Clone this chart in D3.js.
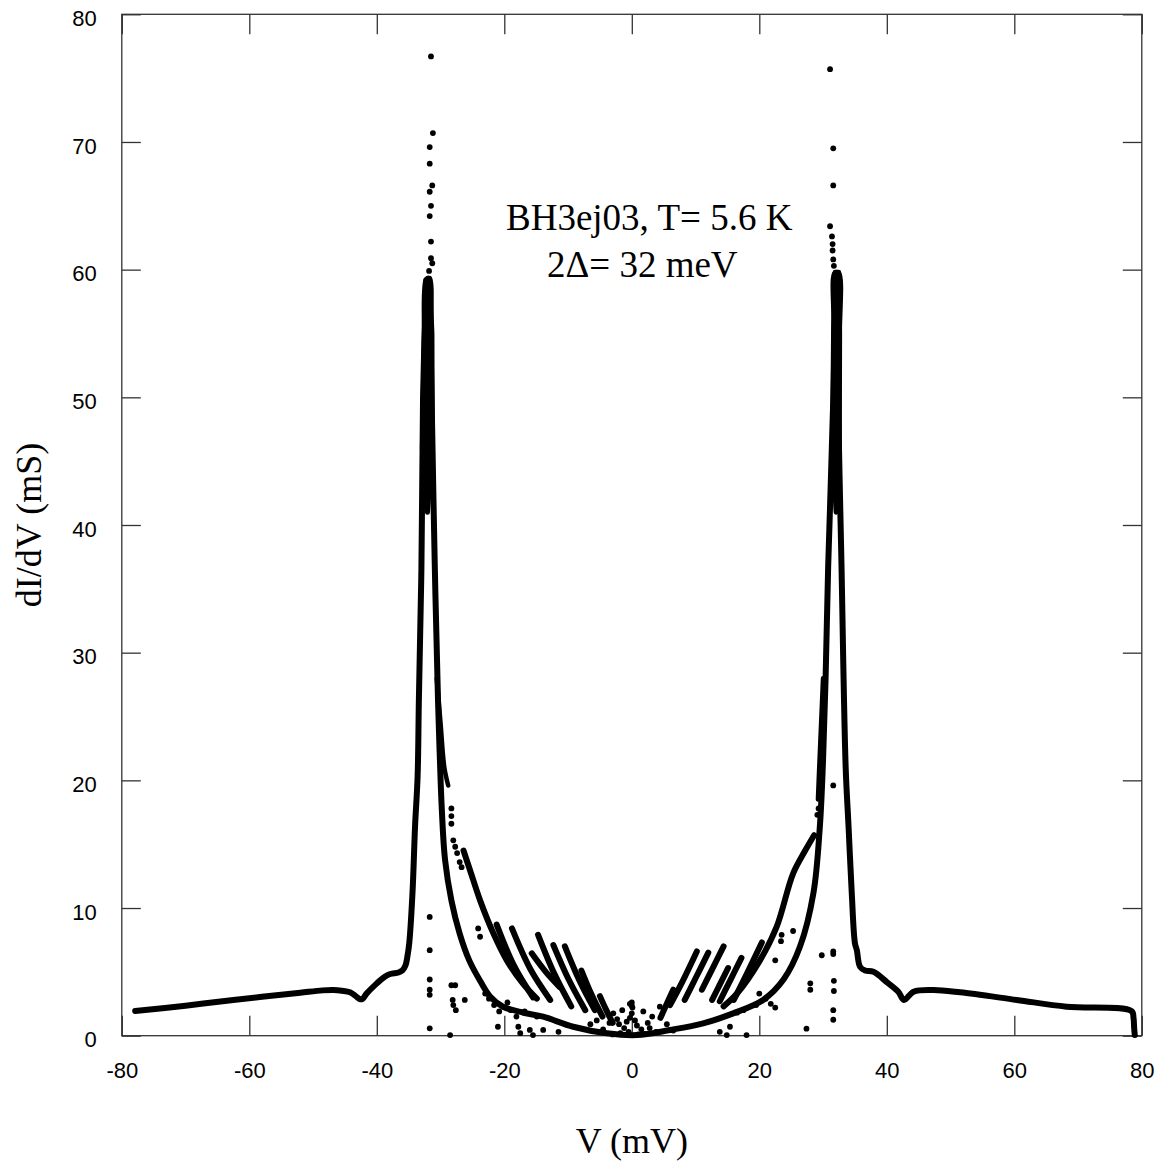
<!DOCTYPE html>
<html>
<head>
<meta charset="utf-8">
<script src="https://cdn.jsdelivr.net/npm/d3@7"></script>
<style>
  html, body { margin: 0; padding: 0; background: #fff; }
  svg { display: block; }
</style>
</head>
<body>
<svg id="chart" width="1169" height="1174"></svg>
<script>
// ---- tick values ----
const xTicks = [-80, -60, -40, -20, 0, 20, 40, 60, 80];
const yTicks = [0, 10, 20, 30, 40, 50, 60, 70, 80];

// ---- main sweep: [V (mV), dI/dV (mS)] ----
const sweepA = [
  [-77.9, 1.93], [-70, 2.35], [-62.5, 2.8], [-52.0, 3.37], [-48.5, 3.55], [-46.8, 3.58],
  [-45.5, 3.52], [-44.2, 3.4], [-43.3, 3.1], [-42.6, 2.85], [-42.2, 2.9], [-41.6, 3.3],
  [-40.0, 4.1], [-38.8, 4.6], [-37.9, 4.83], [-36.6, 4.95], [-36.0, 5.1], [-35.5, 5.5],
  [-35.2, 6.2], [-34.9, 7.3], [-34.4, 11.2], [-34.0, 16.4], [-33.6, 20.3], [-33.4, 26.3],
  [-33.0, 36.7], [-32.75, 49.8], [-32.5, 55], [-32.2, 59.2], [-31.8, 59.3], [-31.6, 55],
  [-31.4, 49.8], [-30.9, 36.7], [-30.4, 26.3], [-30.1, 21.6], [-29.8, 17.7], [-29.3, 13.8],
  [-28.3, 10.6], [-27.0, 8.0], [-25.5, 5.9], [-23.8, 4.3], [-22.2, 3.05], [-20.2, 2.27],
  [-17.0, 1.8], [-13.9, 1.49], [-9.2, 0.7], [-3.9, 0.19], [0.8, 0.05], [6.0, 0.45],
  [11.2, 0.97], [15.9, 1.75], [20.6, 2.8], [23.8, 4.4], [26.4, 7.0], [28.5, 11.2],
  [29.5, 16.4], [30.0, 21.6], [30.4, 28.0], [30.8, 36.7], [31.6, 49.8], [31.75, 56],
  [31.9, 59.7], [32.4, 59.7], [32.5, 55], [32.4, 49.8], [32.9, 36.7], [33.55, 21.0],
  [34.0, 16.4], [34.5, 11.2], [35.0, 7.25], [35.3, 6.7], [35.8, 5.4], [36.6, 5.1],
  [37.9, 5.0], [40.0, 4.2], [41.8, 3.45], [42.7, 2.8], [44.2, 3.45], [47.3, 3.58],
  [51.5, 3.4], [60.4, 2.8], [68.2, 2.27], [78.4, 1.93], [78.7, 1.4], [78.8, 0.6], [78.9, 0.05]
];

// ---- dense tops of the two coherence peaks (outline points) ----
const peakTopLeft = [[-32.85, 46], [-32.55, 55], [-32.3, 59.2], [-31.7, 59.3], [-31.35, 55], [-31.3, 46], [-32.05, 41]];
const peakTopRight = [[31.5, 46], [31.7, 55], [31.9, 59.8], [32.45, 59.8], [32.6, 55], [32.55, 46], [32.05, 41]];

// ---- second sweep (inner U) ----
const sweepBLeft = [
  [-26.4, 14.5], [-25.4, 13.0], [-23.8, 10.6], [-21.7, 8.0], [-19.6, 5.9], [-17.1, 4.1], [-14.9, 2.9]
];
const sweepBLeftTop = [[-30.6, 28.0], [-30.0, 24.5], [-29.4, 21.0], [-28.8, 19.6]];
const sweepBRight = [
  [28.6, 15.7], [27.2, 14.5], [25.3, 12.7], [22.7, 8.5], [20.1, 5.9], [16.5, 3.3], [14.4, 2.3]
];
const sweepBRightTop = [[30.0, 28.0], [29.7, 24.5], [29.4, 21.0], [29.2, 18.5]];

// ---- short fringe streaks ----
const fringesLeft = [
  [[-21.2, 8.7], [-18.5, 5.5], [-15.5, 3.0]],
  [[-18.8, 8.4], [-15.9, 5.2], [-12.8, 2.8]],
  [[-14.7, 7.9], [-12.2, 4.9], [-9.5, 2.3]],
  [[-15.7, 6.45], [-13.5, 5.0], [-11.3, 3.8]],
  [[-12.3, 7.1], [-9.9, 4.4], [-7.3, 2.0]],
  [[-10.5, 7.0], [-8.2, 4.3], [-5.8, 2.0]],
  [[-7.9, 5.1], [-6.3, 3.2], [-4.6, 1.5]],
  [[-5.0, 3.1], [-4.0, 2.0], [-3.0, 1.0]]
];
const fringesRight = [
  [[4.5, 1.4], [5.4, 2.4], [6.5, 3.6]],
  [[6.0, 2.4], [8.0, 4.3], [10.2, 6.6]],
  [[8.3, 2.8], [10.0, 4.5], [12.0, 6.5]],
  [[11.0, 3.6], [12.6, 5.2], [14.4, 7.0]],
  [[12.6, 2.8], [13.8, 4.0], [15.1, 5.3]],
  [[13.8, 2.7], [15.4, 4.3], [17.2, 6.1]],
  [[16.0, 2.8], [18.1, 4.9], [20.4, 7.3]]
];

// ---- isolated points ----
const peakDots = [
  [-31.5, 76.7], [-31.2, 70.7], [-31.7, 69.6], [-31.7, 68.3], [-31.3, 66.6], [-31.7, 66.1],
  [-31.5, 65.0], [-31.7, 64.2], [-31.5, 62.2], [-31.5, 60.9], [-31.3, 60.5], [-31.8, 59.9],
  [31.1, 75.7], [31.6, 69.5], [31.6, 66.6], [31.1, 63.4], [31.4, 62.6], [31.5, 62.0],
  [31.5, 61.5], [31.6, 60.8], [31.7, 60.3]
];
const scatterDots = [
  [-31.7, 9.3], [-31.7, 6.7], [-31.7, 4.4], [-31.7, 3.6], [-31.7, 3.2], [-31.7, 0.58],
  [-28.3, 3.95], [-27.7, 3.95], [-28.1, 2.8], [-28.0, 2.4], [-27.6, 2.0], [-26.2, 2.8], [-28.5, 0.05],
  [-24.1, 8.4], [-23.8, 7.75], [-21.0, 0.7], [-28.3, 17.8], [-28.3, 17.2], [-28.3, 16.6],
  [-28.0, 15.3], [-27.7, 14.8], [-27.4, 14.3], [-27.0, 13.6], [-26.7, 13.2],
  [-23.0, 3.3], [-22.4, 2.9], [-21.6, 2.4], [-20.8, 1.9], [-19.0, 2.0], [-18.1, 1.5],
  [-17.8, 0.7], [-17.5, 0.2], [-16.0, 0.45], [-15.5, 0.05], [-14.9, 1.5], [-13.9, 0.45],
  [-11.5, 0.3], [-19.5, 2.6], [-16.8, 1.9],
  [0.0, 2.6], [0.0, 2.35], [0.1, 2.2], [0.0, 1.75], [-0.3, 1.4], [-2.9, 1.75], [-3.5, 1.0],
  [-2.0, 0.9], [-1.2, 0.6], [-0.5, 0.3], [0.8, 0.8], [1.5, 0.5], [2.5, 1.0], [3.2, 1.5],
  [4.4, 2.27], [3.8, 0.3], [-4.5, 0.5], [-5.5, 1.2], [-6.5, 0.9], [5.5, 0.9], [6.5, 0.4],
  [-1.8, 0.2], [1.0, 0.1], [2.0, 0.15], [-3.0, 0.1], [0.5, 1.2], [-0.8, 1.1], [1.8, 1.9],
  [-1.5, 2.0], [-2.3, 1.3], [2.8, 0.6], [-0.3, 2.5],
  [31.6, 19.6], [29.3, 17.8], [29.1, 17.3], [25.3, 8.2], [23.5, 7.9], [23.4, 7.4], [22.5, 5.9],
  [29.8, 6.3], [31.6, 6.6], [31.6, 6.4], [28.0, 4.1], [28.0, 3.6], [31.7, 4.3], [31.7, 3.5],
  [31.6, 2.0], [31.6, 1.25], [27.4, 0.55], [18.0, 0.05], [13.8, 0.3], [15.4, 0.7], [14.9, 0.05],
  [20.0, 3.3], [21.0, 2.9], [21.8, 2.5], [22.5, 2.2], [19.5, 2.4], [17.5, 2.0], [16.5, 1.8]
];

// ---- texts ----
const xTitle = "V (mV)";
const yTitle = "dI/dV (mS)";
const noteLines = ["BH3ej03, T= 5.6 K", "2\u0394= 32 meV"];

// ---- layout ----
const svg = d3.select("#chart");
const pLeft = 121.8, pRight = 1141.8, pTop = 14.3, pBottom = 1035.7;

const x = d3.scaleLinear().domain([-80, 80]).range([pLeft, pRight]);
const y = d3.scaleLinear().domain([0, 80]).range([pBottom, pTop]);

const axisColor = "#333";
const tickFont = "'Liberation Sans', Arial, Helvetica, sans-serif";
const serif = "'Liberation Serif', 'Times New Roman', Times, serif";

// frame
svg.append("rect")
  .attr("x", pLeft).attr("y", pTop)
  .attr("width", pRight - pLeft).attr("height", pBottom - pTop)
  .attr("fill", "none").attr("stroke", axisColor).attr("stroke-width", 1.3);

function styleAxis(g, showText) {
  g.select(".domain").remove();
  g.selectAll(".tick line").attr("stroke", axisColor).attr("stroke-width", 1.3);
  g.selectAll(".tick text")
    .attr("fill", "#000")
    .style("font-family", tickFont)
    .style("font-size", "22px");
  if (!showText) g.selectAll(".tick text").remove();
}

svg.append("g").attr("transform", `translate(0,${pBottom})`)
  .call(d3.axisBottom(x).tickValues(xTicks).tickSize(-20).tickPadding(27)
        .tickFormat(d => String(d)))
  .call(g => styleAxis(g, true));
svg.append("g").attr("transform", `translate(0,${pTop})`)
  .call(d3.axisTop(x).tickValues(xTicks).tickSize(-20))
  .call(g => styleAxis(g, false));
svg.append("g").attr("transform", `translate(${pLeft},0)`)
  .call(d3.axisLeft(y).tickValues(yTicks).tickSize(-19).tickPadding(25)
        .tickFormat(d => String(d)))
  .call(g => styleAxis(g, true))
  .call(g => g.selectAll(".tick text").attr("y", 4));
svg.append("g").attr("transform", `translate(${pRight},0)`)
  .call(d3.axisRight(y).tickValues(yTicks).tickSize(-19))
  .call(g => styleAxis(g, false));

// titles
svg.append("text")
  .attr("x", (pLeft + pRight) / 2).attr("y", 1153)
  .attr("text-anchor", "middle")
  .style("font-family", serif).style("font-size", "36px")
  .text(xTitle);
svg.append("text")
  .attr("transform", `translate(41,${(pTop + pBottom) / 2}) rotate(-90)`)
  .attr("text-anchor", "middle")
  .style("font-family", serif).style("font-size", "36px")
  .text(yTitle);

// annotation
svg.append("text").attr("x", 506).attr("y", 230)
  .style("font-family", serif).style("font-size", "37px").text(noteLines[0]);
svg.append("text").attr("x", 547).attr("y", 277)
  .style("font-family", serif).style("font-size", "37px").text(noteLines[1]);

// data
const line = d3.line().x(d => x(d[0])).y(d => y(d[1])).curve(d3.curveCatmullRom.alpha(0.5));
const closedLine = d3.line().x(d => x(d[0])).y(d => y(d[1])).curve(d3.curveLinearClosed);
const dataG = svg.append("g");

const strokeW = 6;
function drawLine(pts, w) {
  dataG.append("path").datum(pts).attr("d", line)
    .attr("fill", "none").attr("stroke", "#000")
    .attr("stroke-width", w || strokeW)
    .attr("stroke-linecap", "round").attr("stroke-linejoin", "round");
}
drawLine(sweepA);
drawLine(sweepBLeft);
drawLine(sweepBRight);
drawLine(sweepBLeftTop, 4.5);
drawLine(sweepBRightTop, 4.5);
fringesLeft.forEach(f => drawLine(f));
fringesRight.forEach(f => drawLine(f));

[peakTopLeft, peakTopRight].forEach(p => {
  dataG.append("path").datum(p).attr("d", closedLine)
    .attr("fill", "#000").attr("stroke", "#000").attr("stroke-width", 5)
    .attr("stroke-linejoin", "round");
});

dataG.selectAll("circle.pk").data(peakDots).join("circle")
  .attr("class", "pk").attr("cx", d => x(d[0])).attr("cy", d => y(d[1])).attr("r", 2.9).attr("fill", "#000");
dataG.selectAll("circle.sc").data(scatterDots).join("circle")
  .attr("class", "sc").attr("cx", d => x(d[0])).attr("cy", d => y(d[1])).attr("r", 2.9).attr("fill", "#000");
</script>
</body>
</html>
